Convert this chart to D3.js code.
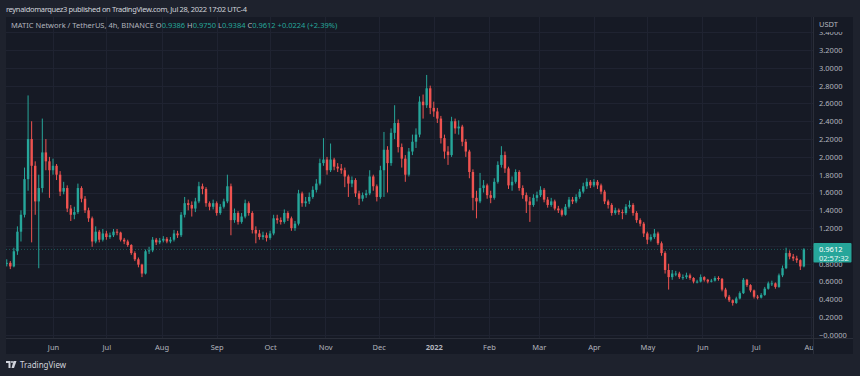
<!DOCTYPE html>
<html>
<head>
<meta charset="utf-8">
<script src="https://cdn.jsdelivr.net/npm/d3@7"></script>
<style>
  html, body { margin: 0; padding: 0; background: #1e222d; }
  svg { display: block; font-family: "Noto Sans", "DejaVu Sans", sans-serif; }
</style>
</head>
<body>
<div id="chart"></div>
<script>
var width = 860;
var height = 376;
var panel = {left: 6, top: 17, right: 853, bottom: 354};
var priceAxisX = 813;
var timeAxisY = 338;

// MATIC/USDT, one candle per two days
var firstCandle = Date.UTC(2021, 4, 4);
var candleDays = 2;
var firstOpen = 0.78;

var closes = [
    0.80, 0.81, 0.77, 0.94, 1.16, 1.35, 1.75, 2.20, 1.90, 1.50,
    1.65, 2.05, 1.95, 1.85, 1.90, 1.80, 1.61, 1.65, 1.42, 1.35,
    1.38, 1.65, 1.53, 1.40, 1.31, 1.05, 1.16, 1.07, 1.14, 1.10,
    1.12, 1.16, 1.15, 1.07, 1.05, 1.01, 0.92, 0.85, 0.79, 0.69,
    0.94, 0.95, 1.07, 1.04, 1.06, 1.08, 1.05, 1.07, 1.14, 1.12,
    1.35, 1.48, 1.46, 1.42, 1.50, 1.67, 1.64, 1.48, 1.44, 1.48,
    1.37, 1.44, 1.50, 1.67, 1.29, 1.37, 1.27, 1.33, 1.48, 1.37,
    1.18, 1.14, 1.10, 1.12, 1.09, 1.14, 1.31, 1.29, 1.27, 1.37,
    1.31, 1.20, 1.25, 1.59, 1.48, 1.50, 1.55, 1.63, 1.70, 1.93,
    1.97, 1.85, 1.97, 1.89, 1.87, 1.85, 1.78, 1.70, 1.74, 1.59,
    1.53, 1.57, 1.59, 1.78, 1.67, 1.55, 1.85, 2.08, 1.93, 2.27,
    2.38, 2.11, 1.98, 1.80, 2.06, 2.17, 2.25, 2.62, 2.58, 2.77,
    2.55, 2.51, 2.43, 2.21, 2.06, 2.02, 2.40, 2.32, 2.34, 2.17,
    2.06, 1.83, 1.54, 1.50, 1.65, 1.68, 1.57, 1.54, 1.72, 1.91,
    2.02, 1.87, 1.68, 1.72, 1.83, 1.65, 1.57, 1.50, 1.46, 1.54,
    1.57, 1.63, 1.52, 1.46, 1.50, 1.42, 1.40, 1.35, 1.44, 1.52,
    1.50, 1.55, 1.61, 1.67, 1.72, 1.68, 1.72, 1.68, 1.61, 1.50,
    1.46, 1.37, 1.40, 1.38, 1.37, 1.44, 1.46, 1.37, 1.29, 1.25,
    1.14, 1.07, 1.10, 1.14, 1.03, 0.92, 0.73, 0.65, 0.69, 0.69,
    0.65, 0.65, 0.67, 0.64, 0.60, 0.60, 0.65, 0.62, 0.60, 0.61,
    0.64, 0.63, 0.51, 0.43, 0.39, 0.36, 0.41, 0.47, 0.62, 0.56,
    0.50, 0.43, 0.42, 0.45, 0.52, 0.58, 0.58, 0.54, 0.67, 0.75,
    0.92, 0.88, 0.86, 0.84, 0.77, 0.9612
];

var highs = [
    0.84, 0.85, 0.83, 0.98, 1.22, 1.40, 1.88, 2.69, 2.40, 1.95,
    1.80, 2.43, 2.20, 2.00, 1.98, 1.92, 1.84, 1.72, 1.68, 1.46,
    1.44, 1.70, 1.67, 1.56, 1.43, 1.33, 1.22, 1.18, 1.19, 1.17,
    1.15, 1.19, 1.19, 1.16, 1.09, 1.07, 1.02, 0.94, 0.87, 0.80,
    0.96, 0.99, 1.10, 1.09, 1.09, 1.11, 1.10, 1.10, 1.18, 1.17,
    1.38, 1.55, 1.52, 1.50, 1.54, 1.72, 1.70, 1.66, 1.50, 1.52,
    1.50, 1.47, 1.53, 1.80, 1.70, 1.42, 1.39, 1.37, 1.52, 1.50,
    1.39, 1.22, 1.18, 1.16, 1.15, 1.17, 1.35, 1.35, 1.32, 1.41,
    1.39, 1.33, 1.28, 1.63, 1.61, 1.55, 1.60, 1.67, 1.75, 1.98,
    2.21, 2.00, 2.15, 1.99, 1.93, 1.92, 1.88, 1.80, 1.78, 1.76,
    1.62, 1.60, 1.63, 1.85, 1.80, 1.69, 1.90, 2.28, 2.12, 2.32,
    2.58, 2.42, 2.15, 2.02, 2.10, 2.25, 2.32, 2.68, 2.70, 2.92,
    2.80, 2.62, 2.55, 2.46, 2.25, 2.12, 2.45, 2.43, 2.41, 2.36,
    2.20, 2.08, 1.86, 1.62, 1.82, 1.74, 1.70, 1.62, 1.76, 1.95,
    2.12, 2.06, 1.89, 1.78, 1.86, 1.85, 1.68, 1.60, 1.55, 1.58,
    1.61, 1.67, 1.65, 1.55, 1.54, 1.52, 1.45, 1.42, 1.47, 1.55,
    1.55, 1.58, 1.64, 1.71, 1.76, 1.74, 1.75, 1.74, 1.70, 1.63,
    1.52, 1.48, 1.43, 1.42, 1.41, 1.47, 1.51, 1.48, 1.39, 1.31,
    1.27, 1.16, 1.13, 1.19, 1.16, 1.05, 0.94, 0.80, 0.73, 0.72,
    0.71, 0.68, 0.70, 0.69, 0.65, 0.62, 0.68, 0.66, 0.63, 0.63,
    0.66, 0.66, 0.64, 0.53, 0.45, 0.40, 0.43, 0.49, 0.64, 0.63,
    0.57, 0.51, 0.45, 0.47, 0.54, 0.60, 0.61, 0.59, 0.69, 0.78,
    0.98, 0.95, 0.91, 0.89, 0.85, 0.975
];

var lows = [
    0.76, 0.77, 0.74, 0.76, 0.90, 1.05, 1.32, 1.62, 1.04, 1.35,
    0.75, 1.60, 1.85, 1.54, 1.80, 1.74, 1.56, 1.58, 1.38, 1.28,
    1.30, 1.36, 1.49, 1.37, 1.27, 0.99, 1.03, 1.04, 1.05, 1.07,
    1.08, 1.10, 1.12, 1.05, 1.02, 0.99, 0.90, 0.83, 0.76, 0.65,
    0.68, 0.91, 0.93, 1.01, 1.02, 1.04, 1.03, 1.03, 1.05, 1.09,
    1.10, 1.32, 1.40, 1.33, 1.38, 1.48, 1.58, 1.44, 1.40, 1.41,
    1.34, 1.35, 1.42, 1.48, 1.12, 1.26, 1.24, 1.25, 1.31, 1.34,
    1.14, 1.03, 1.07, 1.07, 1.05, 1.07, 1.12, 1.25, 1.24, 1.25,
    1.28, 1.17, 1.17, 1.23, 1.44, 1.44, 1.47, 1.53, 1.60, 1.68,
    1.90, 1.80, 1.83, 1.85, 1.83, 1.81, 1.66, 1.55, 1.66, 1.55,
    1.46, 1.50, 1.54, 1.57, 1.62, 1.50, 1.53, 1.55, 1.60, 1.90,
    2.20, 2.05, 1.88, 1.72, 1.78, 2.02, 2.10, 2.22, 2.43, 2.55,
    2.48, 2.45, 2.38, 2.15, 1.98, 1.91, 2.00, 2.26, 2.25, 2.12,
    2.00, 1.76, 1.40, 1.31, 1.48, 1.60, 1.53, 1.48, 1.52, 1.70,
    1.88, 1.82, 1.64, 1.62, 1.70, 1.62, 1.53, 1.37, 1.27, 1.44,
    1.50, 1.55, 1.49, 1.43, 1.44, 1.40, 1.37, 1.33, 1.34, 1.42,
    1.47, 1.48, 1.53, 1.59, 1.64, 1.65, 1.66, 1.64, 1.58, 1.47,
    1.42, 1.34, 1.35, 1.35, 1.30, 1.35, 1.42, 1.34, 1.26, 1.22,
    1.10, 1.02, 1.05, 1.08, 1.01, 0.89, 0.69, 0.51, 0.62, 0.66,
    0.63, 0.62, 0.63, 0.62, 0.58, 0.58, 0.59, 0.60, 0.58, 0.59,
    0.60, 0.61, 0.49, 0.41, 0.37, 0.33, 0.35, 0.40, 0.46, 0.54,
    0.48, 0.41, 0.40, 0.41, 0.44, 0.51, 0.55, 0.52, 0.53, 0.65,
    0.74, 0.85, 0.83, 0.81, 0.73, 0.76
];

var priceTicks = [0, 0.2, 0.4, 0.6, 0.8, 1.0, 1.2, 1.4, 1.6, 1.8, 2.0, 2.2, 2.4, 2.6, 2.8, 3.0, 3.2, 3.4];
var lastPrice = 0.9612;
var countdown = "02:57:32";
var headerText = "reynaldomarquez3 published on TradingView.com, Jul 28, 2022 17:02 UTC-4";
var legendTitle = "MATIC Network / TetherUS, 4h, BINANCE";
var legendItems = [["O", "0.9386"], ["H", "0.9750"], ["L", "0.9384"], ["C", "0.9612"]];
var legendChange = "+0.0224 (+2.39%)";

var upColor = "#26a69a";
var downColor = "#ef5350";
var textColor = "#b2b5be";
var gridColor = "#1f2331";
var panelColor = "#161a25";
var lineColor = "#2a2e39";

var candles = closes.map(function(c, i) {
    return {
        date: new Date(firstCandle + i * candleDays * 864e5),
        open: i ? closes[i - 1] : firstOpen,
        high: highs[i],
        low: lows[i],
        close: c
    };
});

var svg = d3.select("#chart").append("svg")
    .attr("width", width)
    .attr("height", height);

svg.append("rect").attr("width", width).attr("height", height).attr("fill", "#1e222d");
svg.append("rect")
    .attr("x", panel.left).attr("y", panel.top)
    .attr("width", panel.right - panel.left).attr("height", panel.bottom - panel.top)
    .attr("fill", panelColor);

var x = d3.scaleUtc()
    .domain([Date.UTC(2021, 5, 1), Date.UTC(2022, 7, 1)])
    .range([53, 811]);

var y = d3.scaleLinear()
    .domain([0, 3.2])
    .range([335, 50]);

var defs = svg.append("defs");
defs.append("clipPath").attr("id", "plot-clip")
    .append("rect")
    .attr("x", panel.left).attr("y", panel.top)
    .attr("width", priceAxisX - panel.left).attr("height", timeAxisY - panel.top);
defs.append("clipPath").attr("id", "time-clip")
    .append("rect")
    .attr("x", panel.left).attr("y", timeAxisY)
    .attr("width", priceAxisX - panel.left).attr("height", panel.bottom - timeAxisY);

var monthTicks = x.ticks(d3.utcMonth.every(1));

// grid
var grid = svg.append("g").attr("clip-path", "url(#plot-clip)");
grid.selectAll(".hgrid").data(priceTicks).enter().append("line")
    .attr("x1", panel.left).attr("x2", priceAxisX)
    .attr("y1", function(d) { return Math.round(y(d)) + 0.5; })
    .attr("y2", function(d) { return Math.round(y(d)) + 0.5; })
    .attr("stroke", gridColor);
grid.selectAll(".vgrid").data(monthTicks).enter().append("line")
    .attr("x1", function(d) { return Math.round(x(d)) + 0.5; })
    .attr("x2", function(d) { return Math.round(x(d)) + 0.5; })
    .attr("y1", panel.top).attr("y2", timeAxisY)
    .attr("stroke", gridColor);

// current price line
svg.append("line")
    .attr("x1", panel.left).attr("x2", priceAxisX)
    .attr("y1", y(lastPrice)).attr("y2", y(lastPrice))
    .attr("stroke", upColor).attr("stroke-opacity", 0.45)
    .attr("stroke-dasharray", "1,2");

// candles
var plot = svg.append("g").attr("clip-path", "url(#plot-clip)");
var candle = plot.selectAll("g.candle").data(candles).enter().append("g")
    .attr("fill", function(d) { return d.close >= d.open ? upColor : downColor; })
    .attr("stroke", function(d) { return d.close >= d.open ? upColor : downColor; });

candle.append("line")
    .attr("x1", function(d) { return x(d.date); })
    .attr("x2", function(d) { return x(d.date); })
    .attr("y1", function(d) { return y(d.high); })
    .attr("y2", function(d) { return y(d.low); })
    .attr("stroke-width", 1);

candle.append("rect")
    .attr("stroke", "none")
    .attr("x", function(d) { return x(d.date) - 1.2; })
    .attr("width", 2.4)
    .attr("y", function(d) { return y(Math.max(d.open, d.close)); })
    .attr("height", function(d) { return Math.max(1, Math.abs(y(d.open) - y(d.close))); });

// axis frame lines
svg.append("line")
    .attr("x1", priceAxisX + 0.5).attr("x2", priceAxisX + 0.5)
    .attr("y1", panel.top).attr("y2", panel.bottom)
    .attr("stroke", lineColor);
svg.append("line")
    .attr("x1", panel.left).attr("x2", panel.right)
    .attr("y1", timeAxisY + 0.5).attr("y2", timeAxisY + 0.5)
    .attr("stroke", lineColor);

// price scale (the 1.0000 label sits under the last-price tag, as in the original)
var fmt = d3.format(".4f");
var yAxis = d3.axisRight(y)
    .tickValues(priceTicks.filter(function(d) { return Math.abs(d - 1) > 1e-9; }))
    .tickSize(0)
    .tickPadding(6)
    .tickFormat(function(d) { return d === 0 ? "\u22120.0000" : fmt(d); });

svg.append("g")
    .attr("transform", "translate(" + priceAxisX + ",0)")
    .call(yAxis)
    .call(function(g) { g.select(".domain").remove(); })
    .attr("font-family", null).attr("font-size", null)
    .selectAll("text")
    .attr("fill", textColor)
    .style("font-size", "7.5px");

svg.append("rect")
    .attr("x", priceAxisX + 1).attr("y", panel.top)
    .attr("width", panel.right - priceAxisX - 1).attr("height", 15)
    .attr("fill", panelColor);
svg.append("text")
    .attr("x", 819).attr("y", 24).attr("dy", "0.35em")
    .attr("fill", textColor).style("font-size", "7.5px")
    .text("USDT");

// time scale
var xAxis = d3.axisBottom(x)
    .tickValues(monthTicks)
    .tickSize(0)
    .tickFormat(function(d) {
        return d.getUTCMonth() === 0 ? String(d.getUTCFullYear()) : d3.utcFormat("%b")(d);
    });

var timeAxis = svg.append("g")
    .attr("clip-path", "url(#time-clip)")
    .append("g")
    .attr("transform", "translate(0," + timeAxisY + ")")
    .call(xAxis)
    .call(function(g) { g.select(".domain").remove(); })
    .attr("font-family", null).attr("font-size", null);
timeAxis.selectAll("text")
    .attr("y", 9).attr("dy", "0.35em")
    .attr("fill", textColor)
    .style("font-size", "7.5px")
    .style("font-weight", function(d) { return d.getUTCMonth() === 0 ? "bold" : null; });

// last price label
var py = y(lastPrice);
svg.append("rect")
    .attr("x", priceAxisX + 0.5).attr("y", py - 6.5)
    .attr("width", 38).attr("height", 19.5)
    .attr("rx", 1)
    .attr("fill", upColor);
svg.append("text")
    .attr("x", 819).attr("y", py).attr("dy", "0.35em")
    .attr("fill", "#ffffff").style("font-size", "7.5px")
    .text(fmt(lastPrice));
svg.append("text")
    .attr("x", 819).attr("y", py + 8.5).attr("dy", "0.35em")
    .attr("fill", "#e8f6f4").style("font-size", "7.5px")
    .text(countdown);

// header and legend
svg.append("text")
    .attr("x", 6).attr("y", 9).attr("dy", "0.35em")
    .attr("fill", "#d1d4dc").style("font-size", "7.5px")
    .attr("textLength", 241)
    .text(headerText);

var legend = svg.append("text")
    .attr("x", 11).attr("y", 25).attr("dy", "0.35em")
    .style("font-size", "7.5px");
legend.append("tspan").attr("fill", textColor).text(legendTitle + "   ");
legendItems.forEach(function(item) {
    legend.append("tspan").attr("fill", textColor).text(item[0]);
    legend.append("tspan").attr("fill", upColor).text(item[1] + "   ");
});
legend.append("tspan").attr("fill", upColor).text(legendChange);

// footer logo
var logo = svg.append("g").attr("transform", "translate(6,361)").attr("fill", "#d1d4dc");
logo.append("path").attr("d", "M0 0H4.5V7H2.5V2H0Z");
logo.append("circle").attr("cx", 6).attr("cy", 1).attr("r", 1);
logo.append("path").attr("d", "M7.5 0H10.5L8 7H5.5Z");
svg.append("text")
    .attr("x", 20).attr("y", 365).attr("dy", "0.35em")
    .attr("fill", "#d1d4dc").style("font-size", "8px")
    .text("TradingView");
</script>
</body>
</html>
